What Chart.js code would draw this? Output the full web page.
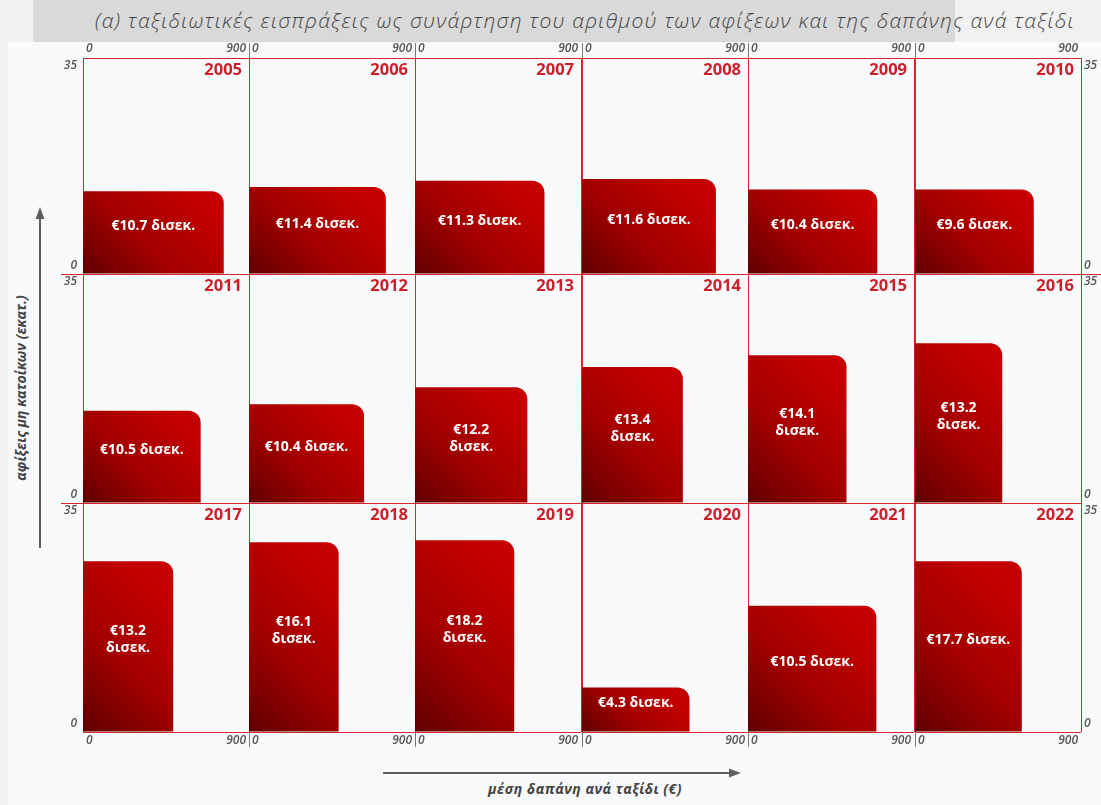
<!DOCTYPE html>
<html>
<head>
<meta charset="utf-8">
<script src="https://cdn.jsdelivr.net/npm/chart.js@4.4.1/dist/chart.umd.min.js"></script>
<style>
  html, body { margin: 0; padding: 0; }
  body { width: 1101px; height: 805px; position: relative; overflow: hidden; background: #f9fafb; font-family: "Open Sans", sans-serif; }
  #leftStrip { position: absolute; left: 0; top: 0; width: 8px; height: 805px; background: #f1f1f1; }
  #topStrip { position: absolute; left: 0; top: 0; width: 1101px; height: 42px; background: #f1f1f1; }
  #titleBox { position: absolute; left: 33px; top: 0; width: 922px; height: 42px; background: #d9d9d9; }
  #title { position: absolute; left: 95px; top: 0; height: 40px; line-height: 40px; font-style: italic; font-weight: 300; font-size: 21px; letter-spacing: 1.25px; color: #444; white-space: nowrap; }
  #yTitle { position: absolute; left: 20px; top: 388px; transform: translate(-50%, -50%) rotate(-90deg); font-weight: 700; font-style: italic; font-size: 14px; color: #444; white-space: nowrap; }
  #xTitle { position: absolute; left: 585px; top: 788px; transform: translate(-50%, -50%); font-weight: 700; font-style: italic; font-size: 14px; letter-spacing: 0.5px; color: #444; white-space: nowrap; }
  #arrows { position: absolute; left: 0; top: 0; }
  canvas.panel { position: absolute; }
</style>
</head>
<body>
<div id="leftStrip"></div>
<div id="topStrip"></div>
<div id="titleBox"></div>
<div id="title">(α) ταξιδιωτικές εισπράξεις ως συνάρτηση του αριθμού των αφίξεων και της δαπάνης ανά ταξίδι</div>
<svg id="arrows" width="1101" height="805">
  <line x1="40" y1="548" x2="40" y2="216" stroke="#5f5f5f" stroke-width="2"/>
  <polygon points="40,207 35.5,219 44.5,219" fill="#5f5f5f"/>
  <line x1="383" y1="773" x2="731" y2="773" stroke="#5f5f5f" stroke-width="2"/>
  <polygon points="741,773 729,768.5 729,777.5" fill="#5f5f5f"/>
</svg>
<div id="yTitle">αφίξεις μη κατοίκων (εκατ.)</div>
<div id="xTitle">μέση δαπάνη ανά ταξίδι (€)</div>
<div id="panels"></div>

<script>
// ---------- DATA ----------
const years = ['2005','2006','2007','2008','2009','2010',
               '2011','2012','2013','2014','2015','2016',
               '2017','2018','2019','2020','2021','2022'];
// average spending per trip (€)
const spending = [763, 742, 702, 726, 701, 644,
                  638, 624, 609, 547, 534, 473,
                  489, 486, 538, 583, 696, 579];
// non-resident arrivals (millions)
const arrivals = [13.4, 14.1, 15.1, 15.4, 13.7, 13.7,
                  14.1, 15.1, 17.7, 20.8, 22.6, 24.4,
                  26.1, 29.0, 29.3, 6.8, 19.3, 26.1];
// travel receipts (€ bn)
const receipts = [10.7, 11.4, 11.3, 11.6, 10.4, 9.6,
                  10.5, 10.4, 12.2, 13.4, 14.1, 13.2,
                  13.2, 16.1, 18.2, 4.3, 10.5, 17.7];
const twoLineYears = ['2013','2014','2015','2016','2017','2018','2019'];
const xTickValues = [0, 900];
const xTickLabels = ['0', '900'];
const yTickValues = [0, 35];
const yTickLabels = ['0', '35'];

// ---------- LAYOUT / STYLE ----------
const X_MAX = 900, Y_MAX = 35;
const NCOLS = 6;
const colLeft = [83, 249, 415, 582, 748, 915];
const colW = 166;
const rowTop = [58, 274, 503];
const rowH = [216, 229, 229];
const ML = 40, MR = 40, MT = 22, MB = 22;
const RED = '#d3262f';
const YEAR_RED = '#cc1f2b';
const TICK_GRAY = '#555555';

function barFill(ctx) {
  const chart = ctx.chart;
  const k = chart.options.plugins.panelDecor.index;
  const xs = chart.scales.x, ys = chart.scales.y;
  if (!xs || !ys) return '#a00000';
  const x0 = xs.getPixelForValue(0), x1 = xs.getPixelForValue(spending[k]);
  const y0 = ys.getPixelForValue(0), y1 = ys.getPixelForValue(arrivals[k]);
  if (![x0, x1, y0, y1].every(Number.isFinite)) return '#a00000';
  const d = Math.max(1, ((x1 - x0) + (y0 - y1)) / 2);
  const g = chart.ctx.createLinearGradient(x0, y0, x0 + d, y0 - d);
  g.addColorStop(0, '#600000');
  g.addColorStop(0.4, '#a10000');
  g.addColorStop(0.8, '#c10000');
  g.addColorStop(1, '#c80000');
  return g;
}

const panelDecor = {
  id: 'panelDecor',
  afterDraw(chart, args, opts) {
    const { ctx, chartArea: a } = chart;
    const xs = chart.scales.x, ys = chart.scales.y;
    const k = opts.index, r = opts.row, c = opts.col;
    ctx.save();

    // year label
    ctx.font = '700 16.5px "Open Sans"';
    ctx.fillStyle = YEAR_RED;
    ctx.textAlign = 'right';
    ctx.textBaseline = 'middle';
    ctx.fillText(years[k], a.right - 7, a.top + 12);

    // receipts label inside bar
    const el = chart.getDatasetMeta(0).data[0];
    const txt = '€' + receipts[k].toFixed(1);
    const lines = twoLineYears.includes(years[k]) ? [txt, 'δισεκ.'] : [txt + ' δισεκ.'];
    const cx = el.x, cy = (el.y + el.base) / 2 - 6.5;
    ctx.font = '700 14px "Open Sans"';
    ctx.fillStyle = '#ffffff';
    ctx.textAlign = 'center';
    lines.forEach((t, j) => ctx.fillText(t, cx, cy + (j - (lines.length - 1) / 2) * 17));

    // tick labels
    ctx.font = 'italic 600 12px "Open Sans"';
    ctx.fillStyle = TICK_GRAY;
    const last = xTickValues.length - 1;
    if (r === 0 || r === 2) {
      const ty = r === 0 ? a.top - 9 : a.bottom + 9;
      xTickValues.forEach((v, j) => {
        const px = xs.getPixelForValue(v);
        ctx.textAlign = j === 0 ? 'left' : (j === last ? 'right' : 'center');
        ctx.fillText(xTickLabels[j], px + (j === 0 ? 3 : (j === last ? -3 : 0)), ty);
      });
      if (c > 0) {
        ctx.strokeStyle = '#777777';
        ctx.lineWidth = 1;
        ctx.beginPath();
        const lx = Math.round(a.left) + 0.5;
        if (r === 0) { ctx.moveTo(lx, a.top - 15); ctx.lineTo(lx, a.top); }
        else { ctx.moveTo(lx, a.bottom); ctx.lineTo(lx, a.bottom + 15); }
        ctx.stroke();
      }
    }
    if (c === 0 || c === NCOLS - 1) {
      const lastY = yTickValues.length - 1;
      yTickValues.forEach((v, j) => {
        const py = ys.getPixelForValue(v) + (j === 0 ? -8.5 : (j === lastY ? 7.5 : 0));
        if (c === 0) { ctx.textAlign = 'right'; ctx.fillText(yTickLabels[j], a.left - 6, py); }
        else { ctx.textAlign = 'left'; ctx.fillText(yTickLabels[j], a.right + 3, py); }
      });
    }
    if (r > 0 && (c === 0 || (c === NCOLS - 1 && r === 1))) {
      ctx.strokeStyle = RED;
      ctx.lineWidth = 1;
      ctx.beginPath();
      const ly = Math.round(a.top) + 0.5;
      if (c === 0) { ctx.moveTo(a.left - 22, ly); ctx.lineTo(a.left, ly); }
      else { ctx.moveTo(a.right, ly); ctx.lineTo(a.right + 20, ly); }
      ctx.stroke();
    }
    ctx.restore();
  }
};

const holder = document.getElementById('panels');
years.forEach((yr, k) => {
  const r = Math.floor(k / NCOLS), c = k % NCOLS;
  const cv = document.createElement('canvas');
  cv.className = 'panel';
  const w = colW + ML + MR, h = rowH[r] + MT + MB;
  cv.width = w; cv.height = h;
  cv.style.width = w + 'px'; cv.style.height = h + 'px';
  cv.style.left = (colLeft[c] - ML) + 'px';
  cv.style.top = (rowTop[r] - MT) + 'px';
  holder.appendChild(cv);

  new Chart(cv, {
    type: 'bar',
    data: {
      datasets: [{
        data: [{ x: spending[k] / 2, y: arrivals[k] }],
        barPercentage: spending[k] / X_MAX,
        categoryPercentage: 1,
        borderRadius: { topLeft: 0, topRight: 12, bottomLeft: 0, bottomRight: 0 },
        borderSkipped: 'start',
        borderWidth: 0,
        backgroundColor: barFill
      }]
    },
    options: {
      responsive: false,
      animation: false,
      events: [],
      layout: { padding: { left: ML, right: MR, top: MT, bottom: MB } },
      plugins: {
        legend: { display: false },
        tooltip: { enabled: false },
        panelDecor: { index: k, row: r, col: c }
      },
      scales: {
        x: {
          type: 'linear', min: 0, max: X_MAX, offset: false,
          afterBuildTicks: s => { s.ticks = xTickValues.map(v => ({ value: v })); },
          ticks: { display: false },
          grid: { display: true, offset: false, drawTicks: false, color: RED, lineWidth: 1 },
          border: { display: false }
        },
        y: {
          type: 'linear', min: 0, max: Y_MAX,
          afterBuildTicks: s => { s.ticks = yTickValues.map(v => ({ value: v })); },
          ticks: { display: false },
          grid: { display: true, drawTicks: false, color: RED, lineWidth: 1 },
          border: { display: false }
        }
      }
    },
    plugins: [panelDecor]
  });
});
</script>
</body>
</html>
